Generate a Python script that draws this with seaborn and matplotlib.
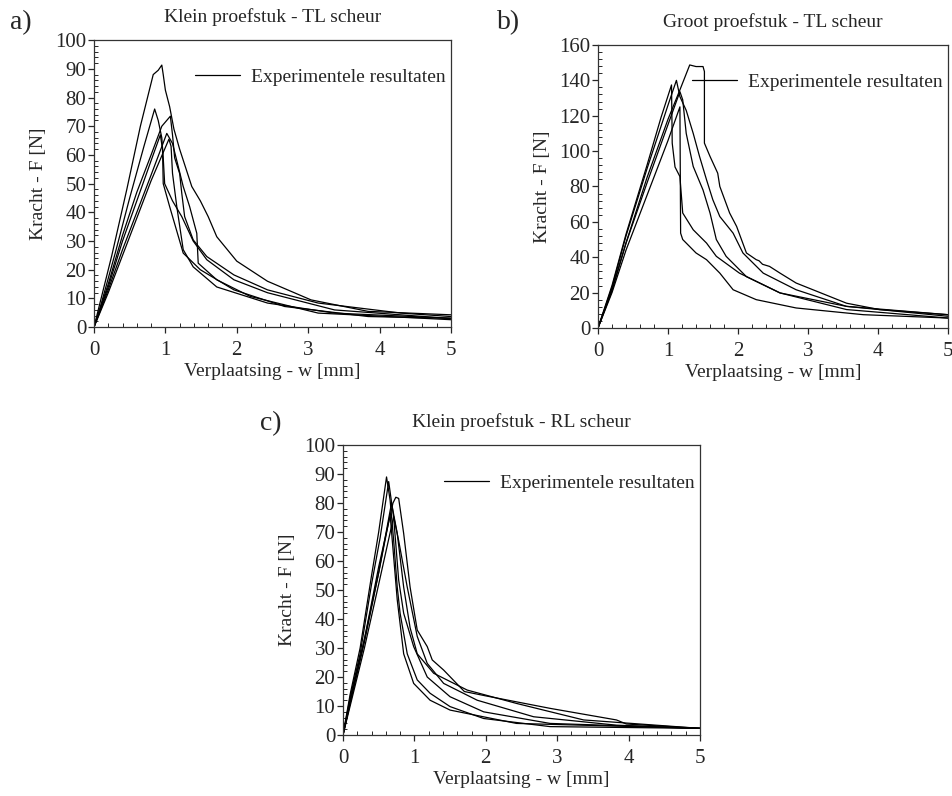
import pandas as pd
import matplotlib.pyplot as plt
import seaborn as sns
from matplotlib.lines import Line2D
from matplotlib.ticker import MultipleLocator

# Stijl
sns.set_style("ticks")
plt.rcParams['font.family'] = ['Liberation Serif', 'DejaVu Serif']

# --- a) Klein proefstuk - TL scheur ---
a_x = [
    [0, 0.1, 0.25, 0.46, 0.65, 0.83, 0.9, 0.95, 0.97, 1.0, 1.06, 1.12, 1.2, 1.37, 1.49, 1.6, 1.72, 2.0, 2.43, 3.04, 3.84, 5.0],
    [0, 0.1, 0.3, 0.5, 0.7, 0.85, 0.9, 0.95, 0.97, 0.99, 1.1, 1.23, 1.39, 1.58, 1.96, 2.43, 3.37, 5.0],
    [0, 0.2, 0.4, 0.6, 0.8, 0.95, 1.07, 1.1, 1.13, 1.2, 1.23, 1.27, 1.39, 1.58, 1.96, 2.43, 3.14, 4.3, 5.0],
    [0, 0.2, 0.4, 0.6, 0.8, 0.93, 0.96, 0.97, 1.06, 1.25, 1.49, 1.96, 2.67, 3.84, 5.0],
    [0, 0.2, 0.4, 0.6, 0.8, 1.02, 1.1, 1.18, 1.25, 1.34, 1.44, 1.46, 1.72, 2.19, 3.14, 5.0],
    [0, 0.2, 0.4, 0.6, 0.8, 1.05, 1.08, 1.1, 1.16, 1.25, 1.39, 1.72, 2.43, 3.37, 5.0],
]
a_f = [
    [0, 10, 25, 48, 70, 88, 89.5, 91.3, 88, 82.6, 76.8, 69, 62, 49, 44, 38.5, 31.5, 23, 16, 9.5, 5.5, 4.3],
    [0, 8, 26, 45, 63, 76, 72, 66, 59, 50, 44, 38.5, 30, 23.5, 16.5, 12, 6, 3],
    [0, 15, 32, 47, 60, 70, 73.5, 67, 59, 53.5, 46.6, 38.5, 30.4, 24.6, 18.2, 13, 8.4, 4.9, 3.7],
    [0, 14, 30, 44, 58, 67, 62, 50, 42, 25.8, 20, 13, 7.2, 3.7, 3.1],
    [0, 13, 27, 40, 53, 67.5, 64, 56, 49, 42, 32.7, 22.3, 16.5, 10.7, 4.9, 2.6],
    [0, 12, 25, 38, 51, 65.5, 63, 53.6, 42, 27, 21, 14, 8.4, 4.9, 3.1],
]

# --- b) Groot proefstuk - TL scheur ---
b_x = [
    [0, 0.2, 0.4, 0.7, 1.0, 1.17, 1.31, 1.4, 1.5, 1.52, 1.52, 1.6, 1.71, 1.74, 1.88, 1.98, 2.12, 2.26, 2.3, 2.35, 2.45, 2.6, 2.83, 3.07, 3.55, 4.02, 5.0],
    [0, 0.2, 0.4, 0.7, 1.0, 1.12, 1.17, 1.26, 1.36, 1.45, 1.55, 1.64, 1.74, 1.93, 2.07, 2.36, 2.83, 3.55, 5.0],
    [0, 0.2, 0.4, 0.7, 0.9, 1.05, 1.06, 1.1, 1.17, 1.21, 1.36, 1.55, 1.69, 2.02, 2.6, 3.55, 5.0],
    [0, 0.2, 0.4, 0.7, 1.0, 1.17, 1.21, 1.26, 1.36, 1.5, 1.6, 1.69, 1.83, 2.12, 2.6, 3.55, 5.0],
    [0, 0.2, 0.4, 0.7, 1.0, 1.17, 1.18, 1.21, 1.4, 1.55, 1.74, 1.93, 2.26, 2.83, 3.79, 5.0],
]
b_f = [
    [0, 21, 48, 85, 118, 134.6, 148.7, 147.8, 147.8, 145, 104.5, 97, 87.5, 80, 65, 57.4, 42.4, 38.6, 38, 36, 34.8, 31, 25.4, 21.6, 14, 10.4, 7.5],
    [0, 23, 52, 90, 126, 140, 130.8, 123, 110, 97, 83.8, 72.5, 63, 53.6, 42.4, 31, 21.6, 12.2, 7.5],
    [0, 24, 53, 92, 119, 137.4, 104.5, 91, 85.6, 65, 55.5, 48, 40.5, 31, 19.8, 10.4, 5.6],
    [0, 22, 48, 82, 115, 133.6, 129, 110, 91.3, 78, 65, 50, 40.5, 29, 19.8, 12.2, 6.6],
    [0, 20, 44, 75, 106, 125, 53.6, 50, 42.4, 38.6, 31, 21.6, 16, 11.3, 7.5, 5.6],
]

# --- c) Klein proefstuk - RL scheur ---
c_x = [
    [0, 0.1, 0.24, 0.4, 0.5, 0.61, 0.66, 0.71, 0.76, 0.8, 0.9, 1.04, 1.22, 1.5, 1.97, 2.9, 5.0],
    [0, 0.1, 0.24, 0.4, 0.52, 0.64, 0.71, 0.78, 0.85, 0.99, 1.18, 1.5, 1.97, 2.9, 5.0],
    [0, 0.1, 0.3, 0.5, 0.7, 0.74, 0.78, 0.85, 0.94, 1.04, 1.18, 1.25, 1.41, 1.7, 2.0, 2.9, 3.83, 3.97, 5.0],
    [0, 0.1, 0.3, 0.5, 0.68, 0.76, 0.85, 0.94, 1.04, 1.27, 1.74, 2.43, 3.37, 5.0],
    [0, 0.1, 0.3, 0.5, 0.71, 0.78, 0.9, 1.04, 1.18, 1.41, 1.88, 2.67, 3.83, 5.0],
    [0, 0.1, 0.3, 0.5, 0.66, 0.76, 0.85, 0.99, 1.22, 1.5, 2.43, 5.0],
]
c_f = [
    [0, 14, 30, 55, 70, 89, 81, 67, 51, 42, 28, 19, 14.4, 9.8, 5.7, 2.9, 2.3],
    [0, 13, 28, 52, 68, 87.4, 75, 53.4, 42, 30.5, 20, 13.2, 8, 4, 2.3],
    [0, 12, 33, 58, 80, 82, 81.6, 69.5, 51, 36.2, 30.5, 25.9, 22.4, 15, 13.5, 9.2, 5.2, 3.8, 2.3],
    [0, 11, 32, 56, 80, 69.5, 51, 37, 28, 21.3, 15.5, 10.9, 5.2, 2.3],
    [0, 10, 30, 52, 75.3, 67, 51, 34, 24.7, 17.8, 12, 6.3, 3.4, 2.3],
    [0, 11, 33, 56, 76, 46.6, 28, 17.8, 12, 8.6, 4, 2.3],
]

titles = ['Klein proefstuk - TL scheur', 'Groot proefstuk - TL scheur', 'Klein proefstuk - RL scheur']
letters = ['a)', 'b)', 'c)']
legend_label = 'Experimentele resultaten'


def to_frame(xs, fs):
    rows = []
    for i, (x, f) in enumerate(zip(xs, fs)):
        for xi, fi in zip(x, f):
            rows.append({'w': xi, 'F': fi, 'proef': i})
    return pd.DataFrame(rows)


def draw_panel(ax, xs, fs, ymax, ymajor, yminor, title, leg_y):
    df = to_frame(xs, fs)
    sns.lineplot(data=df, x='w', y='F', units='proef', estimator=None,
                 sort=False, color='black', lw=0.9, legend=False, ax=ax)
    ax.set_xlim(0, 5)
    ax.set_ylim(0, ymax)
    ax.xaxis.set_major_locator(MultipleLocator(1))
    ax.xaxis.set_minor_locator(MultipleLocator(0.2))
    ax.yaxis.set_major_locator(MultipleLocator(ymajor))
    ax.yaxis.set_minor_locator(MultipleLocator(yminor))
    ax.tick_params(which='major', direction='out', length=4, width=0.9,
                   labelsize=15)
    ax.tick_params(axis='x', which='major', pad=6)
    ax.tick_params(axis='y', which='major', pad=1.5)
    ax.tick_params(which='minor', direction='in', length=3, width=0.7)
    for s in ax.spines.values():
        s.set_visible(True)
        s.set_linewidth(0.9)
        s.set_color('#333333')
    ax.set_xlabel('Verplaatsing - w [mm]', fontsize=14, labelpad=2)
    ax.set_ylabel('Kracht - F [N]', fontsize=14, labelpad=6)
    ax.set_title(title, fontsize=14, pad=13)
    h = Line2D([], [], color='black', lw=0.9)
    ax.legend([h], [legend_label], loc='center right',
              bbox_to_anchor=(1.0, leg_y), frameon=False, fontsize=14,
              handlelength=2.3, handletextpad=0.55, borderaxespad=0.2,
              borderpad=0.1)


fig = plt.figure(figsize=(9.53, 7.96), dpi=100)
ax_a = fig.add_axes([0.0986, 0.589, 0.3746, 0.3606])
ax_b = fig.add_axes([0.6275, 0.588, 0.3673, 0.3555])
ax_c = fig.add_axes([0.3599, 0.0766, 0.3746, 0.3643])

draw_panel(ax_a, a_x, a_f, 100, 10, 2, titles[0], 0.87)
draw_panel(ax_b, b_x, b_f, 160, 20, 4, titles[1], 0.87)
draw_panel(ax_c, c_x, c_f, 100, 10, 2, titles[2], 0.87)

# Panel letters
fig.text(10 / 953, 1 - 29 / 796, letters[0], fontsize=20, va='baseline')
fig.text(497 / 953, 1 - 29 / 796, letters[1], fontsize=20, va='baseline')
fig.text(260 / 953, 1 - 430 / 796, letters[2], fontsize=20, va='baseline')

fig.savefig('out.png', dpi=100)
